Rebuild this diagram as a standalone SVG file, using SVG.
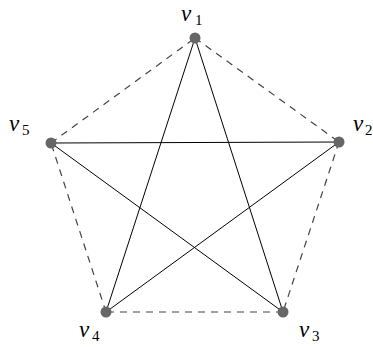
<svg xmlns="http://www.w3.org/2000/svg" width="373" height="347" viewBox="0 0 373 347">
<style>
.solid{stroke:#000;stroke-width:1;fill:none}
.dash{stroke:#444;stroke-width:1.2;stroke-dasharray:7 6;fill:none}
.node{fill:#666}
</style>
<rect width="373" height="347" fill="#fff"/>
<g id="connectors">
<line class="dash" x1="195" y1="38" x2="339" y2="142"/>
<line class="dash" x1="339" y1="142" x2="283" y2="312"/>
<line class="dash" x1="283" y1="312" x2="106" y2="312"/>
<line class="dash" x1="106" y1="312" x2="51" y2="143"/>
<line class="dash" x1="51" y1="143" x2="195" y2="38"/>
<line class="solid" x1="195" y1="38" x2="283" y2="312"/>
<line class="solid" x1="195" y1="38" x2="106" y2="312"/>
<line class="solid" x1="51" y1="143" x2="339" y2="142"/>
<line class="solid" x1="51" y1="143" x2="283" y2="312"/>
<line class="solid" x1="339" y1="142" x2="106" y2="312"/>
</g>
<g font-family="Liberation Serif, serif" fill="#000">
<g id="v1"><circle class="node" cx="195" cy="38" r="5.5"/><text x="181" y="21" font-size="23" font-style="italic">v</text><text x="195" y="25" font-size="15">1</text></g>
<g id="v2"><circle class="node" cx="339" cy="142" r="5.5"/><text x="353" y="131" font-size="23" font-style="italic">v</text><text x="365" y="135" font-size="15">2</text></g>
<g id="v3"><circle class="node" cx="283" cy="312" r="5.5"/><text x="299" y="337" font-size="23" font-style="italic">v</text><text x="312" y="341" font-size="15">3</text></g>
<g id="v4"><circle class="node" cx="106" cy="312" r="5.5"/><text x="79" y="337" font-size="23" font-style="italic">v</text><text x="92" y="341" font-size="15">4</text></g>
<g id="v5"><circle class="node" cx="51" cy="143" r="5.5"/><text x="9" y="131" font-size="23" font-style="italic">v</text><text x="22" y="135" font-size="15">5</text></g>
</g>
</svg>
